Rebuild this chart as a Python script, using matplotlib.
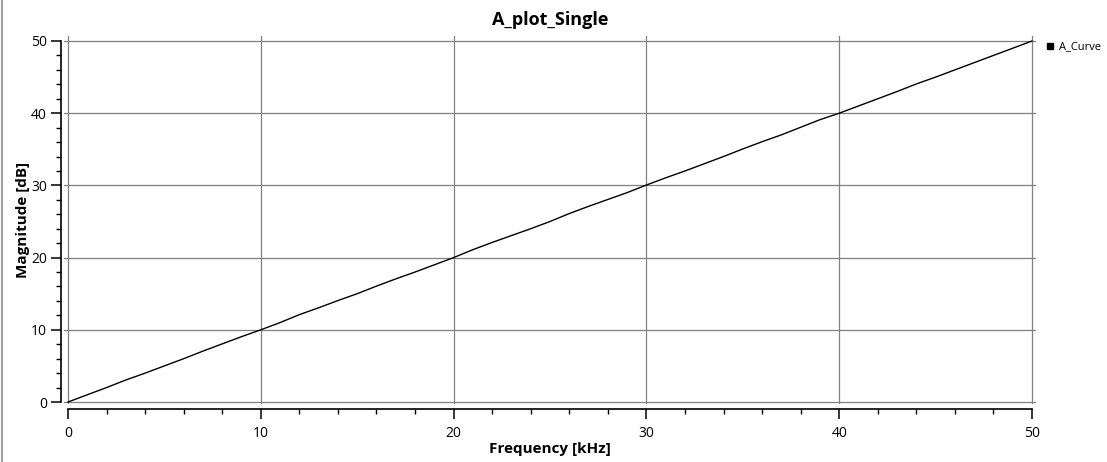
import matplotlib
matplotlib.use("Agg")
import matplotlib.pyplot as plt
from matplotlib.lines import Line2D
from matplotlib.ticker import MultipleLocator

plt.rcParams['font.family'] = ['Open Sans', 'DejaVu Sans']

# data
freq_khz = [0, 1, 2, 3, 4, 5, 6, 7, 8, 9, 10, 11, 12, 13, 14, 15, 16, 17, 18, 19, 20,
            21, 22, 23, 24, 25, 26, 27, 28, 29, 30, 31, 32, 33, 34, 35, 36, 37, 38, 39, 40,
            41, 42, 43, 44, 45, 46, 47, 48, 49, 50]
magnitude_db = [0, 1.0, 2.0, 3.05, 4.0, 5.0, 6.0, 7.05, 8.05, 9.05, 10.0, 11.0, 12.1, 13.05, 14.05, 15.0, 16.05, 17.05, 18.0, 19.0, 20.0,
                21.1, 22.1, 23.05, 24.0, 25.0, 26.1, 27.1, 28.05, 29.0, 30.05, 31.05, 32.0, 33.0, 34.0, 35.05, 36.05, 37.0, 38.05, 39.1, 40.0,
                41.0, 42.0, 43.0, 44.05, 45.0, 46.0, 47.0, 48.0, 49.0, 50.0]
series_name = "A_Curve"

W, H = 1107, 462
fig = plt.figure(figsize=(W / 100, H / 100), dpi=100)

# axes box in pixels (slightly wider than data range, grid lines overshoot)
ax_l, ax_r, ax_t, ax_b = 64, 1036, 36, 404
ax = fig.add_axes([ax_l / W, 1 - ax_b / H, (ax_r - ax_l) / W, (ax_b - ax_t) / H])

ax.plot(freq_khz, magnitude_db, color='black', lw=1.0)

ax.set_xlim(-4 / 19.28, 50 + 4 / 19.28)
ax.set_ylim(-2 / 7.22, 50 + 5 / 7.22)

ax.xaxis.set_major_locator(MultipleLocator(10))
ax.xaxis.set_minor_locator(MultipleLocator(2))
ax.yaxis.set_major_locator(MultipleLocator(10))
ax.yaxis.set_minor_locator(MultipleLocator(2))

ax.grid(True, which='major', color='#808080', lw=0.9)
ax.set_axisbelow(True)

for s in ['top', 'right']:
    ax.spines[s].set_visible(False)
ax.spines['left'].set_position(('outward', 2.2))
ax.spines['bottom'].set_position(('outward', 3.6))
ax.spines['left'].set_bounds(0, 50)
ax.spines['bottom'].set_bounds(0, 50)
for s in ['left', 'bottom']:
    ax.spines[s].set_linewidth(1.2)
    ax.spines[s].set_color('black')

ax.tick_params(axis='both', which='major', direction='out', length=7, width=1.1,
               labelsize=10, colors='black', pad=5)
ax.tick_params(axis='both', which='minor', direction='out', length=3.5, width=1.0)
ax.tick_params(axis='y', which='major', length=7, pad=3)

ax.set_xlabel('Frequency [kHz]', fontsize=11, fontweight='bold', labelpad=1)
ax.set_ylabel('Magnitude [dB]', fontsize=11, fontweight='bold', labelpad=1)
ax.set_title('A_plot_Single', fontsize=13, fontweight='bold', pad=8)

# legend outside at top right
fig.legend(handles=[Line2D([], [], ls='none', marker='s', color='black', markersize=5)],
           labels=[series_name], loc='upper left', bbox_to_anchor=(1040 / W, 1 - 37 / H),
           frameon=False, fontsize=8, handletextpad=0.3, handlelength=1.0,
           borderaxespad=0)

# window frame line at the left edge
fig.add_artist(Line2D([1.5 / W, 1.5 / W], [0, 1], color='#a0a0a0', lw=1.5,
                      transform=fig.transFigure))

fig.savefig('out.png', dpi=100)
